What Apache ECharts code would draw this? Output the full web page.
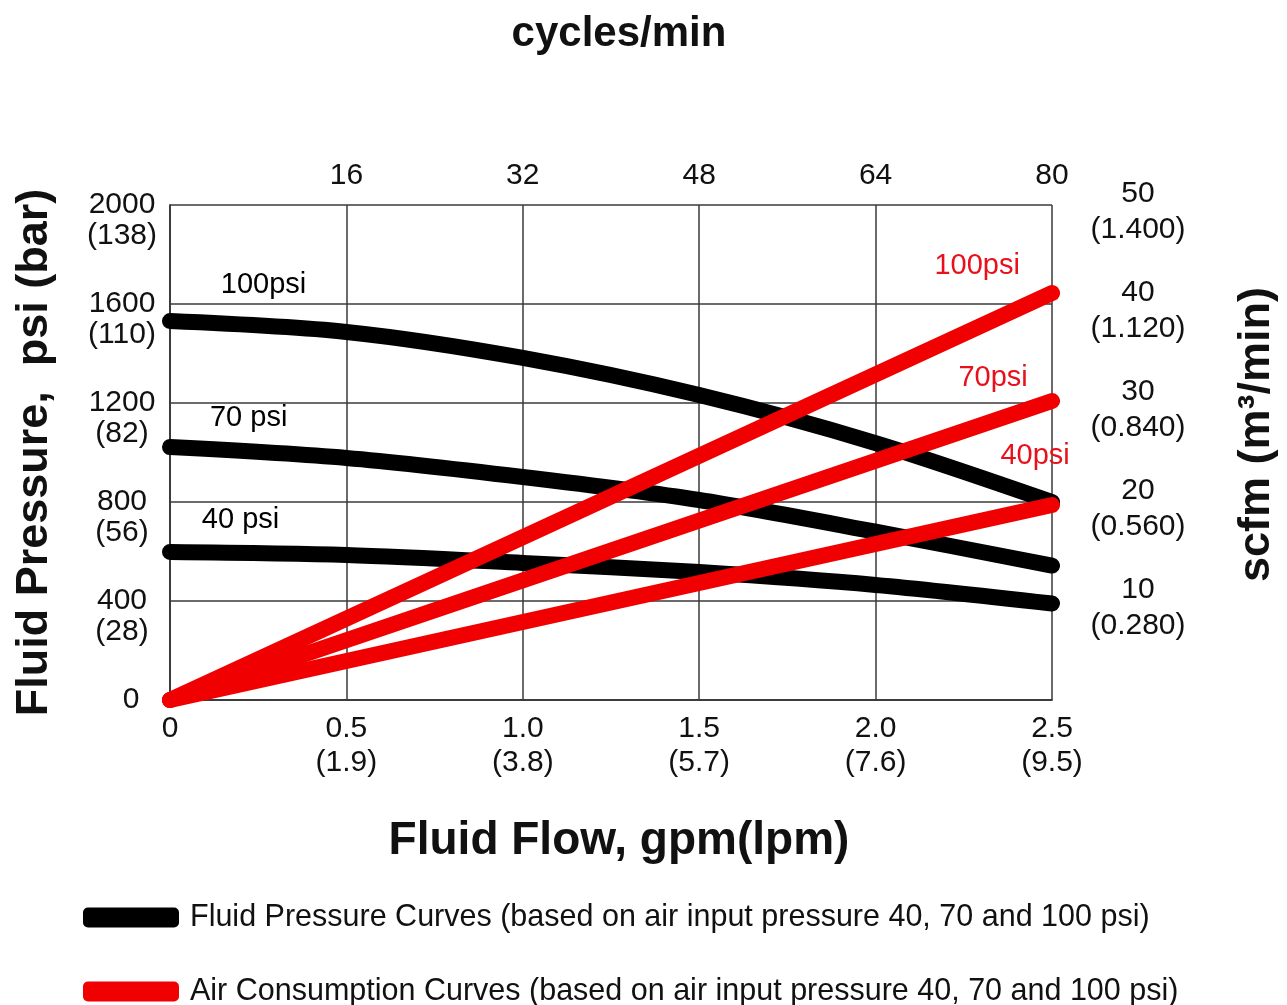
<!DOCTYPE html>
<html>
<head>
<meta charset="utf-8">
<script src="https://cdn.jsdelivr.net/npm/echarts@6/dist/echarts.min.js"></script>
<style>
html,body{margin:0;padding:0;background:#fff;}
#chart{width:1287px;height:1005px;}
</style>
</head>
<body>
<div id="chart"></div>
<script>
// ---- data ----
var flowGpm = [0, 0.5, 1.0, 1.5, 2.0, 2.5];
var flowLpm = ['', '(1.9)', '(3.8)', '(5.7)', '(7.6)', '(9.5)'];
var cyclesTicks = [0, 16, 32, 48, 64, 80];
var psiTicks = [0, 400, 800, 1200, 1600, 2000];
var barTicks = ['', '(28)', '(56)', '(82)', '(110)', '(138)'];
var scfmTicks = [0, 10, 20, 30, 40, 50];
var m3Ticks = ['', '(0.280)', '(0.560)', '(0.840)', '(1.120)', '(1.400)'];

var fluid100 = [1531, 1487, 1382, 1232, 1038, 800];
var fluid70  = [1022, 978, 901, 808, 680, 543];
var fluid40  = [598, 586, 554, 517, 465, 390];

var airX = [0, 2.5];
var air100 = [0, 41.1];
var air70  = [0, 30.2];
var air40  = [0, 19.7];

var fluidLabels = [
  {name: '100psi', value: [0.265, 1677]},
  {name: '70 psi', value: [0.223, 1139]},
  {name: '40 psi', value: [0.200, 727]}
];
var airLabels = [
  {name: '100psi', value: [2.288, 43.8]},
  {name: '70psi',  value: [2.333, 32.5]},
  {name: '40psi',  value: [2.452, 24.6]}
];

var fluidName = 'Fluid Pressure Curves (based on air input pressure 40, 70 and 100 psi)';
var airName = 'Air Consumption Curves (based on air input pressure 40, 70 and 100 psi)';

// ---- chart ----
var FONT = "'Liberation Sans', Arial, Helvetica, sans-serif";
var BLACK = '#000000';
var RED = '#f00000';
var GRIDC = '#3a3a3a';

function pairs(xs, ys) { return xs.map(function (x, i) { return [x, ys[i]]; }); }

var chart = echarts.init(document.getElementById('chart'));

function fluidSeries(vals) {
  return {
    name: fluidName, type: 'line', xAxisIndex: 0, yAxisIndex: 0,
    data: pairs(flowGpm, vals), smooth: 0.3, symbol: 'none', z: 3,
    lineStyle: {color: BLACK, width: 16, cap: 'round', join: 'round'},
    itemStyle: {color: BLACK}
  };
}
function airSeries(vals) {
  return {
    name: airName, type: 'line', xAxisIndex: 0, yAxisIndex: 1,
    data: pairs(airX, vals), symbol: 'none', z: 4,
    lineStyle: {color: RED, width: 16, cap: 'round'},
    itemStyle: {color: RED}
  };
}

var tickFont = {fontFamily: FONT, fontSize: 30, color: '#111', showMinLabel: true, showMaxLabel: true};

function legendFor(name, top) {
  return {
    orient: 'vertical', left: 78, top: top,
    itemWidth: 96, itemHeight: 20, icon: 'roundRect',
    data: [name], selectedMode: false,
    textStyle: {fontFamily: FONT, fontSize: 30.5, color: '#111', padding: [0, 0, 0, 6]}
  };
}

var option = {
  backgroundColor: '#ffffff',
  animation: false,
  textStyle: {fontFamily: FONT},
  grid: {left: 170, right: 229, top: 205, bottom: 305},
  legend: [legendFor(fluidName, 897), legendFor(airName, 971)],
  xAxis: [
    {
      type: 'value', position: 'bottom', min: 0, max: 2.5, interval: 0.5,
      name: 'Fluid Flow, gpm(lpm)', nameLocation: 'middle', nameGap: 118,
      nameTextStyle: {fontFamily: FONT, fontSize: 46, fontWeight: 'bold', color: '#111',
        padding: [0, 0, 0, 16]},
      axisLine: {show: true, lineStyle: {color: GRIDC, width: 1.5}},
      axisTick: {show: false},
      splitLine: {show: true, lineStyle: {color: GRIDC, width: 1.5}},
      axisLabel: Object.assign({}, tickFont, {
        margin: 12, lineHeight: 34,
        formatter: function (v) {
          var i = Math.round(v / 0.5);
          return i === 0 ? '0' : flowGpm[i].toFixed(1) + '\n' + flowLpm[i];
        }
      })
    },
    {
      type: 'value', position: 'top', min: 0, max: 80, interval: 16,
      name: 'cycles/min', nameLocation: 'middle', nameGap: 150,
      nameTextStyle: {fontFamily: FONT, fontSize: 42, fontWeight: 'bold', color: '#111',
        padding: [0, 0, 0, 16]},
      axisLine: {show: true, lineStyle: {color: GRIDC, width: 1.5}},
      axisTick: {show: false},
      splitLine: {show: false},
      axisLabel: Object.assign({}, tickFont, {
        margin: 14,
        formatter: function (v) { return v === 0 ? '' : String(v); }
      })
    }
  ],
  yAxis: [
    {
      type: 'value', position: 'left', min: 0, max: 2000, interval: 400,
      name: 'Fluid Pressure,  psi (bar)', nameLocation: 'middle', nameGap: 113,
      nameTextStyle: {fontFamily: FONT, fontSize: 45, fontWeight: 'bold', color: '#111'},
      axisLine: {show: true, lineStyle: {color: GRIDC, width: 1.5}},
      axisTick: {show: false},
      splitLine: {show: true, lineStyle: {color: GRIDC, width: 1.5}},
      axisLabel: Object.assign({}, tickFont, {
        margin: 48, align: 'center', verticalAlign: 'middle', lineHeight: 31,
        rich: {z: {fontFamily: FONT, fontSize: 30, color: '#111', padding: [0, 0, 0, 18]}},
        formatter: function (v) {
          var i = Math.round(v / 400);
          return i === 0 ? '{z|0}' : '\n' + psiTicks[i] + '\n' + barTicks[i];
        }
      })
    },
    {
      type: 'value', position: 'right', min: 0, max: 50, interval: 10,
      name: 'scfm (m\u00b3/min)', nameLocation: 'middle', nameGap: 182,
      nameTextStyle: {fontFamily: FONT, fontSize: 45, fontWeight: 'bold', color: '#111',
        padding: [0, 0, 0, 36]},
      axisLine: {show: true, lineStyle: {color: GRIDC, width: 1.5}},
      axisTick: {show: false},
      splitLine: {show: false},
      axisLabel: Object.assign({}, tickFont, {
        margin: 86, align: 'center', verticalAlign: 'middle',
        rich: {
          s: {fontFamily: FONT, fontSize: 10, lineHeight: 14},
          a: {fontFamily: FONT, fontSize: 30, color: '#111', lineHeight: 36, align: 'center'}
        },
        formatter: function (v) {
          var i = Math.round(v / 10);
          return i === 0 ? '' : '{s| }\n{a|' + scfmTicks[i] + '}\n{a|' + m3Ticks[i] + '}';
        }
      })
    }
  ],
  series: [
    fluidSeries(fluid100),
    fluidSeries(fluid70),
    fluidSeries(fluid40),
    airSeries(air100),
    airSeries(air70),
    airSeries(air40),
    {
      type: 'scatter', xAxisIndex: 0, yAxisIndex: 0, symbolSize: 1, z: 6,
      itemStyle: {color: 'rgba(0,0,0,0)', opacity: 1}, silent: true,
      data: fluidLabels,
      label: {show: true, position: 'inside', formatter: '{b}',
        fontFamily: FONT, fontSize: 29, color: '#000'}
    },
    {
      type: 'scatter', xAxisIndex: 0, yAxisIndex: 1, symbolSize: 1, z: 6,
      itemStyle: {color: 'rgba(0,0,0,0)', opacity: 1}, silent: true,
      data: airLabels,
      label: {show: true, position: 'inside', formatter: '{b}',
        fontFamily: FONT, fontSize: 29, color: '#e8101a'}
    }
  ]
};
chart.setOption(option);
</script>
</body>
</html>
